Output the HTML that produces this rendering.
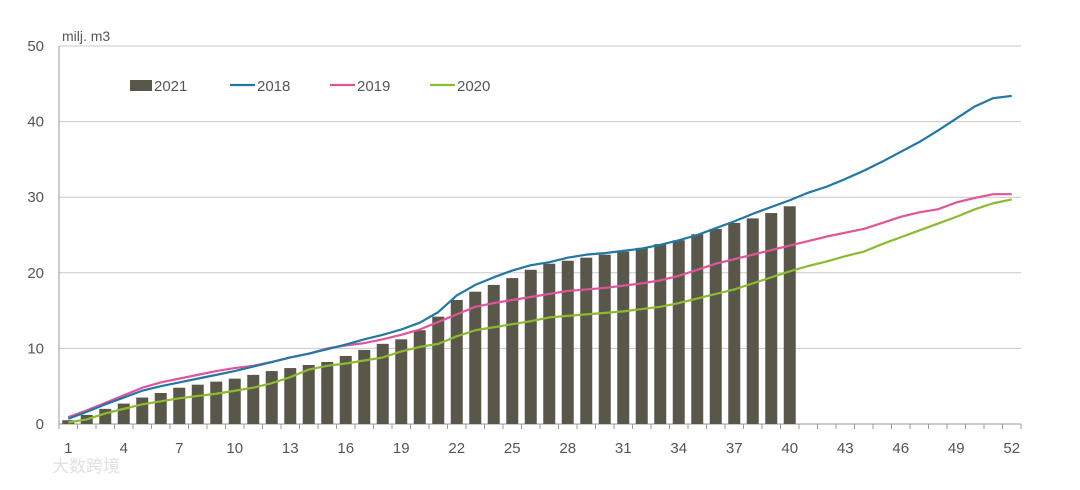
<!DOCTYPE html>
<html><head><meta charset="utf-8"><style>
body{margin:0;background:#fff}
svg text{font-family:"Liberation Sans","Noto Sans CJK SC",sans-serif;fill:#555}
</style></head><body>
<svg id="c" width="1080" height="485"></svg>
<script>
const weeks=[];for(let i=1;i<=52;i++)weeks.push(i);
const yTicks=[0,10,20,30,40,50];
const xTickLabels=[1,4,7,10,13,16,19,22,25,28,31,34,37,40,43,46,49,52];
const s2021=[0.5,1.2,2.0,2.7,3.5,4.1,4.8,5.2,5.6,6.0,6.5,7.0,7.4,7.8,8.2,9.0,9.8,10.6,11.2,12.4,14.2,16.4,17.5,18.4,19.3,20.4,21.2,21.6,22.0,22.4,22.8,23.3,23.8,24.3,25.1,25.8,26.6,27.2,27.9,28.8];
const s2018=[0.7,1.6,2.6,3.5,4.4,5.0,5.5,6.0,6.5,7.0,7.6,8.2,8.8,9.3,9.9,10.5,11.2,11.8,12.5,13.4,14.8,17.0,18.4,19.4,20.3,21.0,21.4,22.0,22.4,22.6,22.9,23.2,23.7,24.3,25.0,25.9,26.8,27.8,28.7,29.6,30.6,31.4,32.4,33.5,34.7,36.0,37.3,38.8,40.4,42.0,43.1,43.4];
const s2019=[0.9,1.8,2.8,3.8,4.8,5.5,6.0,6.5,7.0,7.4,7.7,8.2,8.8,9.3,10.0,10.4,10.7,11.2,11.8,12.5,13.5,14.5,15.5,16.0,16.4,16.8,17.2,17.6,17.8,18.0,18.3,18.6,19.0,19.6,20.4,21.2,21.8,22.4,23.0,23.6,24.2,24.8,25.3,25.8,26.6,27.4,28.0,28.4,29.3,29.9,30.4,30.4];
const s2020=[0.2,0.6,1.4,2.0,2.6,3.0,3.4,3.7,4.0,4.4,4.8,5.4,6.2,7.2,7.7,8.0,8.4,8.8,9.6,10.2,10.6,11.6,12.4,12.8,13.2,13.6,14.1,14.3,14.5,14.7,14.9,15.2,15.5,16.0,16.6,17.2,17.8,18.6,19.4,20.2,20.9,21.5,22.2,22.8,23.8,24.7,25.6,26.5,27.4,28.4,29.2,29.7];

const NS="http://www.w3.org/2000/svg",svg=document.getElementById('c');
const X0=59,BAND=18.5,Y0=424,PER=7.56;
const xc=w=>X0+(w-0.5)*BAND, y=v=>Y0-v*PER;
function mk(t,a,p){const e=document.createElementNS(NS,t);for(const k in a)e.setAttribute(k,a[k]);(p||svg).appendChild(e);return e;}
yTicks.forEach(v=>{
 if(v>0){const g=mk('line',{x1:X0,x2:X0+52*BAND,y1:y(v),y2:y(v),stroke:'#c8c8c8','stroke-width':1});
 
 }
 const t=mk('text',{x:44,y:y(v)+5,'text-anchor':'end','font-size':15});t.textContent=v;
 
 
});
const ax=mk('line',{x1:X0,x2:X0+52*BAND,y1:Y0,y2:Y0,stroke:'#999'});


const ay=mk('line',{x1:X0,x2:X0,y1:46,y2:Y0+5,stroke:'#999'});


for(let i=0;i<=52;i++){mk('line',{x1:X0+i*BAND,x2:X0+i*BAND,y1:Y0,y2:Y0+5,stroke:'#999'});}
xTickLabels.forEach(w=>{const t=mk('text',{x:xc(w),y:453,'text-anchor':'middle','font-size':15});t.textContent=w;
 
 });
s2021.forEach((v,i)=>{const b=mk('rect',{x:xc(weeks[i])-6,y:y(v),width:12,height:Y0-y(v),fill:'#59574a'});
 
 });
function line(d,c,n){const p=mk('polyline',{points:d.map((v,i)=>xc(weeks[i])+','+y(v)).join(' '),fill:'none',stroke:c,'stroke-width':2.2,'stroke-linejoin':'round'});
 
 }
line(s2020,'#8cba30','line-2020');line(s2019,'#e0559a','line-2019');line(s2018,'#2277a6','line-2018');
const u=mk('text',{x:62,y:41,'font-size':14});u.textContent='milj. m3';


const leg=[['2021','#59574a',130,'bar'],['2018','#2277a6',230,'line'],['2019','#e0559a',330,'line'],['2020','#8cba30',430,'line']];
leg.forEach(([n,c,x,t])=>{
 const g=mk('g',{});
 
 
 if(t=='bar')mk('rect',{x:x,y:80,width:22,height:11,fill:c},g);
 else mk('line',{x1:x,x2:x+25,y1:85,y2:85,stroke:c,'stroke-width':2.2},g);
 const tt=mk('text',{x:x+(t=='bar'?24:27),y:91,'font-size':15},g);tt.textContent=n;
});
const wm=mk('text',{x:52,y:472,'font-size':17,fill:'#ddd',style:'fill:#e2e2e2'});wm.textContent='大数跨境';


</script>
</body></html>
